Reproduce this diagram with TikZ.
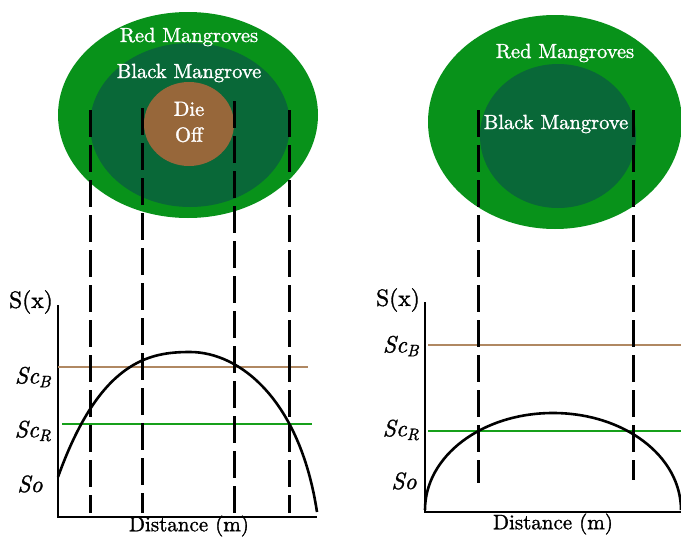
\documentclass[tikz,border=0pt]{standalone}
\usepackage{fontspec}
\setmainfont{lmroman10-regular.otf}[ItalicFont=lmroman10-italic.otf, BoldFont=lmroman10-bold.otf, RawFeature={embolden=1.3}]
\usetikzlibrary{
    positioning,                      % right=of, below=of, etc.
    shapes.geometric                  % ellipse
}
\tikzset{
    zone/.style={
        ellipse, inner sep=0pt
    },
    zonetext/.style={
        text=white, font=\fontsize{20.5}{23}\selectfont, align=center
    },
    axislabel/.style={
        font=\fontsize{23.5}{26}\selectfont, inner sep=0pt
    },
    axis/.style={
        line width=2.8pt
    },
    level/.style={
        line width=2.8pt
    },
    profile/.style={
        line width=2.6pt
    },
    cut/.style={
        line width=3pt, dash pattern=on 27pt off 8pt
    }
}
\definecolor{red_zone}{RGB}{8,146,26}
\definecolor{black_zone}{RGB}{9,104,56}
\definecolor{dieoff_zone}{RGB}{151,103,58}
\definecolor{level_black}{RGB}{176,136,98}
\definecolor{level_red}{RGB}{22,160,26}

\begin{document}
\begin{tikzpicture}[x=1pt, y=-1pt]
        \useasboundingbox (0,0) rectangle (681,538);

        % --- Zonas con die off (izquierda) ---
        \node[zone, fill=red_zone, minimum width=260pt, minimum height=206pt] (redL) at (188,115) {};
        \node[zone, fill=black_zone, minimum width=200pt, minimum height=164pt] (blackL) at (190,125) {};
        \node[zone, fill=dieoff_zone, minimum width=90pt, minimum height=84pt] (dieL) at (189,124) {};
        \node[zonetext] (redLtxt) at (189,37) {Red Mangroves};
        \node[zonetext] (blackLtxt) at (189,73) {Black Mangrove};
        \node[zonetext, font=\fontsize{20.5}{26}\selectfont] (dieLtxt) at (189,122) {Die\\Off};

        % --- Zonas sin die off (derecha) ---
        \node[zone, fill=red_zone, minimum width=254pt, minimum height=214pt] (redR) at (555,122) {};
        \node[zone, fill=black_zone, minimum width=156pt, minimum height=144pt] (blackR) at (558,136) {};
        \node[zonetext] (redRtxt) at (565,53) {Red Mangroves};
        \node[zonetext] (blackRtxt) at (556,124) {Black Mangrove};

        % --- Grafica izquierda ---
        \coordinate (oL) at (58,517);
        \draw[axis] (58,305) -- (oL) -- (317,517);
        \node[axislabel] (sxL) at (31,302) {S(x)};
        \node[axislabel] (scbL) at (33,377) {\textit{Sc\textsubscript{B}}};
        \node[axislabel] (scrL) at (33,431) {\textit{Sc\textsubscript{R}}};
        \node[axislabel] (soL) at (30,484) {\textit{So}};
        \node[axislabel, font=\fontsize{21}{24}\selectfont] (distL) at (189,526) {Distance (m)};
        \draw[level, level_black] (58,367) -- (308,367);
        \draw[level, level_red] (62,424) -- (312,424);
        \draw[profile] (58,477) .. controls (100,360) and (150,352) .. (190,352)
            .. controls (240,352) and (300,400) .. (317,512);

        % --- Grafica derecha ---
        \coordinate (oR) at (425,512);
        \draw[axis] (425,302) -- (oR) -- (681,512);
        \node[axislabel] (sxR) at (398,300) {S(x)};
        \node[axislabel] (scbR) at (401,346) {\textit{Sc\textsubscript{B}}};
        \node[axislabel] (scrR) at (401,430) {\textit{Sc\textsubscript{R}}};
        \node[axislabel] (soR) at (404,481) {\textit{So}};
        \node[axislabel, font=\fontsize{21}{24}\selectfont] (distR) at (553,524) {Distance (m)};
        \draw[level, level_black] (428,345) -- (681,345);
        \draw[level, level_red] (428,431) -- (681,431);
        \draw[profile] (425,510) .. controls (425,456) and (482,413) .. (553,413)
            .. controls (624,413) and (681,456) .. (681,510);

        % --- Cortes verticales entre zonas y grafica ---
        \foreach \name/\xx/\ytop/\ybot in {a/90/110/513, b/142/108/513, c/234/101/513,
                d/289/110/513, e/478/110/483, f/633/110/480} {
            \coordinate (cut\name top) at (\xx,\ytop);
            \coordinate (cut\name bot) at (\xx,\ybot);
            \draw[cut] (cut\name top) -- (cut\name bot);
        }

    \end{tikzpicture}
\end{document}
